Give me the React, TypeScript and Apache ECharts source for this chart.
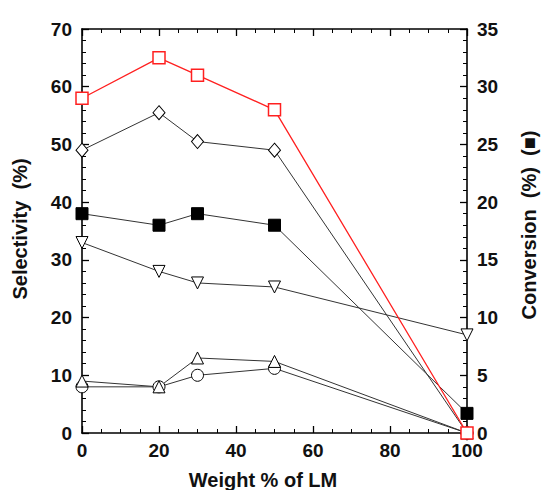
import React, { useEffect, useRef } from "react";
import * as echarts from "echarts";

const weights = [0, 20, 30, 50, 100];
const redSquares = [58, 65, 62, 56, 0];
const diamonds = [49, 55.5, 50.5, 49, 0];
const downTriangles = [33, 28, 26, 25.3, 17];
const upTriangles = [9, 8, 13, 12.4, 0];
const circles = [8, 8, 10, 11.2, 0];
const conversion = [19, 18, 19, 18, 1.7];

const FONT = "'Liberation Sans', Arial, 'DejaVu Sans', sans-serif";

function pairs(vals: number[]) {
  return weights.map((w, i) => [w, vals[i]]);
}

export default function App() {
  const ref = useRef<HTMLDivElement>(null);
  useEffect(() => {
    if (!ref.current) return;
    const chart = echarts.init(ref.current, null, { renderer: "svg" });
    const axisCommon = {
      axisLine: { show: true, onZero: false, lineStyle: { color: "#000", width: 1.6 } },
      axisTick: { show: true, inside: true, length: 7, lineStyle: { color: "#000", width: 1.3 } },
      minorTick: { show: true, splitNumber: 0, length: 4, lineStyle: { color: "#000", width: 1 } },
      splitLine: { show: false },
    };
    const labelStyle = { color: "#111", fontFamily: FONT, fontWeight: "bold", fontSize: 19 };
    const lineSeries = (name: string, vals: number[], symbol: string, opts: any = {}) => ({
      name,
      type: "line",
      data: pairs(vals),
      symbol,
      symbolSize: 12,
      showAllSymbol: true,
      lineStyle: { color: "#333", width: 1 },
      itemStyle: { color: "#fff", borderColor: "#000", borderWidth: 1 },
      emphasis: { disabled: true },
      ...opts,
    });
    chart.setOption({
      animation: false,
      backgroundColor: "#fff",
      grid: { left: 82, top: 29, right: 74, bottom: 57 },
      xAxis: [
        {
          type: "value",
          min: 0,
          max: 100,
          interval: 20,
          ...axisCommon,
          minorTick: { ...axisCommon.minorTick, splitNumber: 4 },
          axisLabel: { ...labelStyle, margin: 8 },
        },
        {
          type: "value",
          position: "top",
          min: 0,
          max: 100,
          interval: 20,
          ...axisCommon,
          minorTick: { ...axisCommon.minorTick, splitNumber: 4 },
          axisLabel: { show: false },
        },
      ],
      yAxis: [
        {
          type: "value",
          min: 0,
          max: 70,
          interval: 10,
          ...axisCommon,
          minorTick: { ...axisCommon.minorTick, splitNumber: 5 },
          axisLabel: { ...labelStyle, margin: 10 },
        },
        {
          type: "value",
          position: "right",
          min: 0,
          max: 35,
          interval: 5,
          ...axisCommon,
          minorTick: { ...axisCommon.minorTick, splitNumber: 5 },
          axisLabel: { ...labelStyle, margin: 10 },
        },
      ],
      graphic: [
        {
          type: "text",
          x: 20,
          y: 229,
          rotation: Math.PI / 2,
          style: {
            text: "Selectivity  (%)",
            font: `bold 20px ${FONT}`,
            fill: "#111",
            textAlign: "center",
            textVerticalAlign: "middle",
          },
        },
        {
          type: "text",
          x: 529,
          y: 225,
          rotation: Math.PI / 2,
          style: {
            text: "Conversion  (%)  (\u25A0)",
            font: `bold 20px ${FONT}`,
            fill: "#111",
            textAlign: "center",
            textVerticalAlign: "middle",
          },
        },
        {
          type: "text",
          x: 263,
          y: 480,
          style: {
            text: "Weight % of LM",
            font: `bold 20px ${FONT}`,
            fill: "#111",
            textAlign: "center",
            textVerticalAlign: "middle",
          },
        },
      ],
      series: [
        lineSeries("circles", circles, "circle"),
        lineSeries("upTriangles", upTriangles, "triangle"),
        lineSeries("downTriangles", downTriangles, "triangle", { symbolRotate: 180 }),
        lineSeries("conversion", conversion, "rect", {
          yAxisIndex: 1,
          itemStyle: { color: "#000", borderColor: "#000", borderWidth: 1 },
        }),
        lineSeries("diamonds", diamonds, "diamond", { symbolSize: [12, 14] }),
        lineSeries("redSquares", redSquares, "rect", {
          lineStyle: { color: "#ff2020", width: 1.3 },
          itemStyle: { color: "#fff", borderColor: "#ff2020", borderWidth: 1.5 },
        }),
      ],
    });
    return () => chart.dispose();
  }, []);
  return (
    <div
      ref={ref}
      style={{ position: "fixed", left: 0, top: 0, width: 541, height: 490, background: "#fff" }}
    />
  );
}
